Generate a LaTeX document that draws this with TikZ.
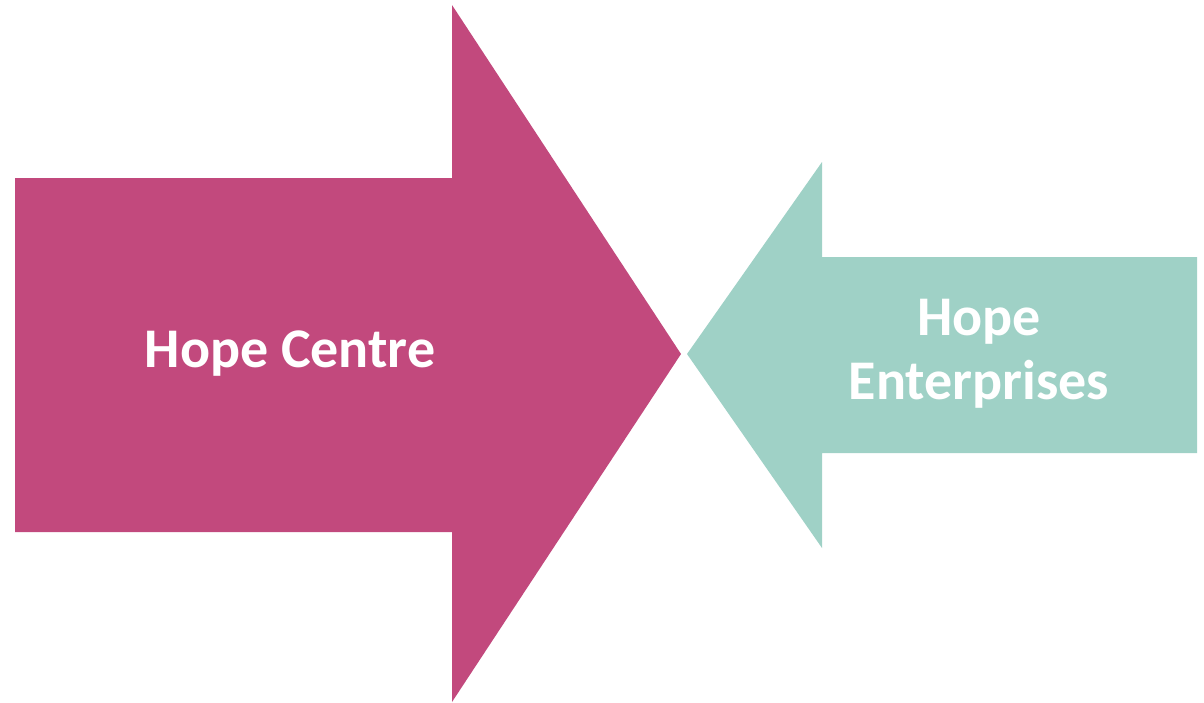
\documentclass[tikz,border=0pt]{standalone}
\usepackage{fontspec}
\setmainfont{Carlito}
\usepackage{xcolor}
\usepackage{tikz}
\usetikzlibrary{shapes,arrows,positioning}

\definecolor{hopepink}{HTML}{C2497D}
\definecolor{hopeteal}{HTML}{9FD1C6}

\tikzset{
    arrowlabel/.style={
        text=white,
        font=\fontsize{56}{64}\selectfont\bfseries,
        align=center
    }
}

\begin{document}
\begin{tikzpicture}[x=1pt,y=-1pt]
                \useasboundingbox (0,0) rectangle (1204,702);

                \fill[
                    hopepink
                    ] (15,178) -- (452,178) -- (452,5) -- (681,354)
                      -- (452,702) -- (452,532) -- (15,532) -- cycle;

                \fill[
                    hopeteal
                    ] (1197,257) -- (822,257) -- (822,162) -- (687,354)
                      -- (822,548) -- (822,453) -- (1197,453) -- cycle;

                \node[arrowlabel] (centre) at (290,354) {Hope Centre};

                \node[arrowlabel] (enterprises) at (979,354) {Hope\\Enterprises};

            \end{tikzpicture}
\end{document}
